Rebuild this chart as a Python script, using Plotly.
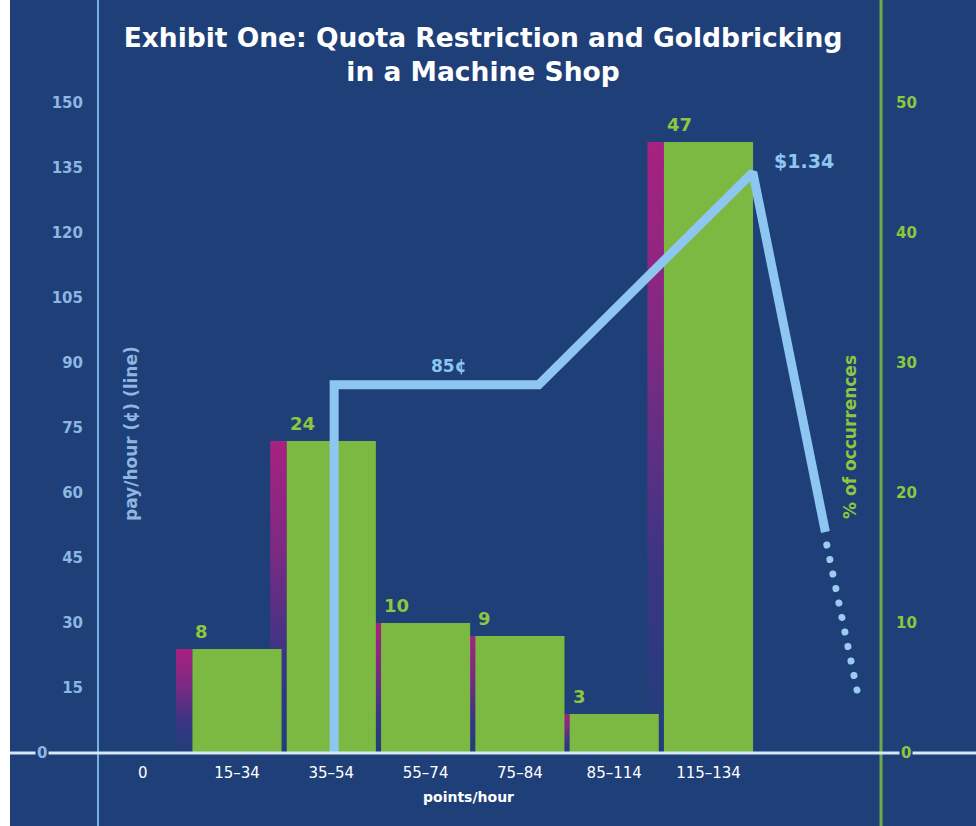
import plotly.graph_objects as go

# ---- data -------------------------------------------------------------
categories = ["0", "15–34", "35–54", "55–74", "75–84", "85–114", "115–134"]
bar_bins = [1, 2, 3, 4, 5, 6]                 # index into categories
occurrence_pct = [8, 24, 10, 9, 3, 47]        # % of occurrences

# pay per hour (cents), positions in category units
pay_x = [2.03, 2.03, 4.2, 6.47, 7.24]
pay_y = [0, 85, 85, 134, 51]
pay_tail_x = [7.255, 7.58]
pay_tail_y = [48, 14]

left_ticks = [15, 30, 45, 60, 75, 90, 105, 120, 135, 150]
right_ticks = [10, 20, 30, 40, 50]

# ---- style ------------------------------------------------------------
BG = "#1f3f79"
GREEN = "#7cb942"
LINE_BLUE = "#8cc6f1"
LEFT_LABEL = "#8db6e2"
RIGHT_LABEL = "#8dc63f"
MAGENTA = "#a8217f"
FONT = "DejaVu Sans"

W, H = 976, 826
L, R, T, B = 98, 95, 103, 73
PW, PH = W - L - R, H - T - B

BAR_W = 0.945
STRIP_W = 0.175


def px_to_paper_x(px):
    return (px - L) / PW


def px_to_paper_y(py):
    return (H - B - py) / PH


fig = go.Figure()

# side strips behind each bar (drawn on the base subplot, under the bars)
for pos, val in zip(bar_bins, occurrence_pct):
    x1 = pos - BAR_W / 2
    x0 = x1 - STRIP_W
    fig.add_trace(go.Scatter(
        x=[x0, x1, x1, x0, x0], y=[0, 0, val, val, 0],
        mode="lines", fill="toself", line=dict(width=0),
        fillgradient=dict(type="vertical",
                          colorscale=[[0, BG], [0.3, "#3a3584"],
                                      [0.65, "#7c2a83"], [1, MAGENTA]]),
        hoverinfo="skip", showlegend=False, xaxis="x", yaxis="y"))

# green bars (right-hand % axis)
fig.add_trace(go.Bar(
    x=bar_bins, y=occurrence_pct, width=BAR_W,
    marker=dict(color=GREEN, line=dict(width=0)),
    hoverinfo="skip", showlegend=False, xaxis="x", yaxis="y2"))

# pay line (left-hand cents axis)
fig.add_trace(go.Scatter(
    x=pay_x, y=pay_y, mode="lines",
    line=dict(color=LINE_BLUE, width=9),
    hoverinfo="skip", showlegend=False, xaxis="x", yaxis="y3"))
fig.add_trace(go.Scatter(
    x=pay_tail_x, y=pay_tail_y, mode="lines",
    line=dict(color="#9ccbf2", width=7, dash="0.01px,14.8px"),
    hoverinfo="skip", showlegend=False, xaxis="x", yaxis="y3"))

annotations = []
# bar value labels
for pos, val in zip(bar_bins, occurrence_pct):
    annotations.append(dict(
        x=pos - BAR_W / 2, y=val, xref="x", yref="y2",
        text=f"<b>{val}</b>", showarrow=False,
        xanchor="left", yanchor="bottom", xshift=1, yshift=5,
        font=dict(family=FONT, size=18, color=RIGHT_LABEL)))

# pay labels
annotations.append(dict(
    x=(pay_x[1] + pay_x[2]) / 2 + 0.13, y=pay_y[1], xref="x", yref="y3",
    text="<b>85¢</b>", showarrow=False, xanchor="center", yanchor="bottom",
    yshift=7, font=dict(family=FONT, size=17, color=LINE_BLUE)))
annotations.append(dict(
    x=pay_x[3], y=pay_y[3], xref="x", yref="y3",
    text="<b>$1.34</b>", showarrow=False, xanchor="left", yanchor="middle",
    xshift=19, yshift=11, font=dict(family=FONT, size=19, color=LINE_BLUE)))

# zero labels sitting on the baseline
annotations.append(dict(
    x=px_to_paper_x(42), y=0, xref="paper", yref="paper", text="<b>0</b>",
    showarrow=False, bgcolor=BG, borderpad=1,
    xanchor="center", yanchor="middle",
    font=dict(family=FONT, size=15, color=LEFT_LABEL)))
annotations.append(dict(
    x=px_to_paper_x(906), y=0, xref="paper", yref="paper", text="<b>0</b>",
    showarrow=False, bgcolor=BG, borderpad=1,
    xanchor="center", yanchor="middle",
    font=dict(family=FONT, size=15, color=RIGHT_LABEL)))

# axis titles
annotations.append(dict(
    x=px_to_paper_x(119), y=px_to_paper_y(434), xref="paper", yref="paper",
    text="<b>pay/hour (¢) (line)</b>", textangle=-90, showarrow=False,
    font=dict(family=FONT, size=17, color=LEFT_LABEL)))
annotations.append(dict(
    x=px_to_paper_x(862), y=px_to_paper_y(437), xref="paper", yref="paper",
    text="<b>% of occurrences</b>", textangle=-90, showarrow=False,
    font=dict(family=FONT, size=17, color=RIGHT_LABEL)))
annotations.append(dict(
    x=px_to_paper_x(468), y=px_to_paper_y(797), xref="paper", yref="paper",
    text="<b>points/hour</b>", showarrow=False,
    xanchor="center", yanchor="middle",
    font=dict(family=FONT, size=14, color="white")))

shapes = [
    # blue sheet, leaving a thin white edge on the left
    dict(type="rect", xref="paper", yref="paper",
         x0=px_to_paper_x(10), x1=px_to_paper_x(W),
         y0=px_to_paper_y(H), y1=px_to_paper_y(0),
         fillcolor=BG, line=dict(width=0), layer="below"),
    # vertical axis rules running the full height
    dict(type="line", xref="paper", yref="paper", x0=0, x1=0,
         y0=px_to_paper_y(H), y1=px_to_paper_y(0),
         line=dict(color="#79ade3", width=2), layer="below"),
    dict(type="line", xref="paper", yref="paper", x0=1, x1=1,
         y0=px_to_paper_y(H), y1=px_to_paper_y(0),
         line=dict(color="#6dab46", width=3), layer="below"),
    # baseline
    dict(type="line", xref="paper", yref="paper",
         x0=px_to_paper_x(10), x1=px_to_paper_x(W), y0=0, y1=0,
         line=dict(color="#d6e8f8", width=3), layer="above"),
]

x_range = [(L - 142.7) / 94.3, (W - R - 142.7) / 94.3]

fig.update_layout(
    width=W, height=H, autosize=False,
    margin=dict(l=L, r=R, t=T, b=B, pad=0),
    paper_bgcolor="white", plot_bgcolor="rgba(0,0,0,0)",
    showlegend=False, barmode="overlay", hovermode=False,
    title=dict(
        text="<b>Exhibit One: Quota Restriction and Goldbricking<br>in a Machine Shop</b>",
        x=483 / W, xanchor="center", y=1 - 47 / H, yanchor="middle",
        font=dict(family=FONT, size=26.5, color="white")),
    xaxis=dict(range=x_range, tickmode="array",
               tickvals=list(range(len(categories))), ticktext=categories,
               showgrid=False, zeroline=False, showline=False, ticks="",
               ticklabelstandoff=9,
               tickfont=dict(family=FONT, size=15, color="white")),
    yaxis=dict(range=[0, 50], visible=False, showgrid=False, zeroline=False),
    yaxis2=dict(range=[0, 50], overlaying="y", side="right",
                tickmode="array", tickvals=right_ticks,
                showgrid=False, zeroline=False, showline=False, ticks="",
                ticklabelstandoff=14,
                tickfont=dict(family=FONT, size=15, color=RIGHT_LABEL,
                              weight="bold")),
    yaxis3=dict(range=[0, 150], overlaying="y", side="left",
                tickmode="array", tickvals=left_ticks,
                showgrid=False, zeroline=False, showline=False, ticks="",
                ticklabelstandoff=14,
                tickfont=dict(family=FONT, size=15, color=LEFT_LABEL,
                              weight="bold")),
    annotations=annotations,
    shapes=shapes,
)

# round caps turn the sparse dash pattern into a row of dots
post_js = """
var gd = document.getElementById('{plot_id}');
function roundDots() {
  gd.querySelectorAll('path.js-line').forEach(function (p) {
    var d = p.style.strokeDasharray;
    if (d && d !== 'none') { p.style.strokeLinecap = 'round'; }
  });
}
roundDots();
setTimeout(roundDots, 50);
gd.on('plotly_afterplot', roundDots);
"""

fig.write_html("out.html", post_script=post_js)
